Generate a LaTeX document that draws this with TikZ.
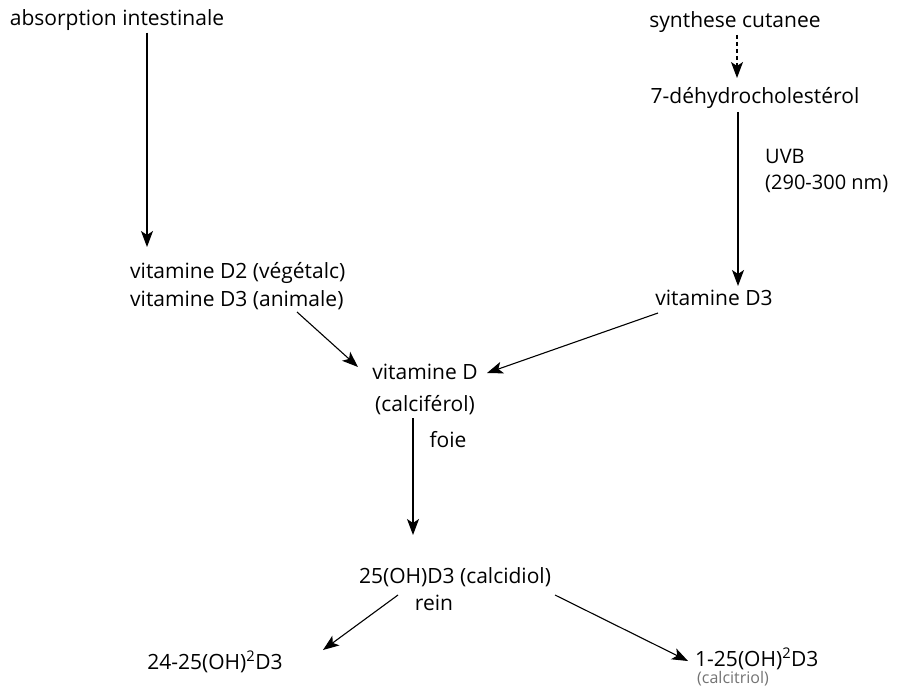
\documentclass[tikz,border=0pt]{standalone}
\usepackage{fontspec}
\setmainfont{Open Sans}
\usetikzlibrary{arrows.meta,calc}
\begin{document}
\begin{tikzpicture}[x=1pt,y=-1pt,
  lbl/.style={inner sep=2pt,font=\fontsize{21}{28}\selectfont},
  arr/.style={draw=black,line width=1.1pt,-{Stealth[length=16pt,width=12pt,inset=4pt]}}]
\useasboundingbox (0,0) rectangle (905,690);
\node[lbl] (absorp) at (117,20) {absorption intestinale};
\node[lbl,anchor=west,align=left] (vdtwo) at (128,286) {vitamine D2 (végétalc)\\vitamine D3 (animale)};
\node[lbl] (synth) at (735,22) {synthese cutanee};
\node[lbl] (dehydro) at (755,98) {7-déhydrocholestérol};
\node[lbl,anchor=west,align=left,font=\fontsize{20}{26}\selectfont] (uvb) at (763,171) {UVB\\(290-300 nm)};
\node[lbl] (vdthree) at (714,298) {vitamine D3};
\node[lbl,align=center,font=\fontsize{21}{32}\selectfont] (vitd) at (425,389) {vitamine D\\(calciférol)};
\node[lbl] (foie) at (448,440) {foie};
\node[lbl] (calcid) at (455,577) {25(OH)D3 (calcidiol)};
\node[lbl] (rein) at (434,603) {rein};
\node[lbl] (dtf) at (215,662) {24-25(OH)\textsuperscript{2}D3};
\node[lbl,anchor=west] (done) at (693,659) {1-25(OH)\textsuperscript{2}D3};
\node[anchor=west,inner sep=0pt,text=black!55,font=\fontsize{16}{20}\selectfont] (calcit) at (697,679) {(calcitriol)};
\coordinate (xl) at (147,0);
\draw[arr] (xl |- absorp.south) -- ($(vdtwo.west)+(19,-39)$);
\draw[arr,dash pattern=on 4pt off 3pt] ($(synth.center)+(2,13)$) -- ($(dehydro.center)+(-18,-20)$);
\draw[arr] ($(dehydro.center)+(-17,14)$) -- ($(vdthree.center)+(24,-12)$);
\draw[arr] ($(vdtwo.west)+(169,26)$) -- ($(vitd.center)+(-67,-22)$);
\draw[arr] ($(vdthree.center)+(-56,15)$) -- ($(vitd.center)+(62,-16)$);
\draw[arr] ($(vitd.center)+(-12,29)$) -- ($(calcid.center)+(-42,-42)$);
\draw[arr] ($(calcid.center)+(-57,18)$) -- ($(dtf.center)+(108,-12)$);
\draw[arr] ($(calcid.center)+(100,18)$) -- ($(done.west)+(-5,2)$);
\end{tikzpicture}
\end{document}
